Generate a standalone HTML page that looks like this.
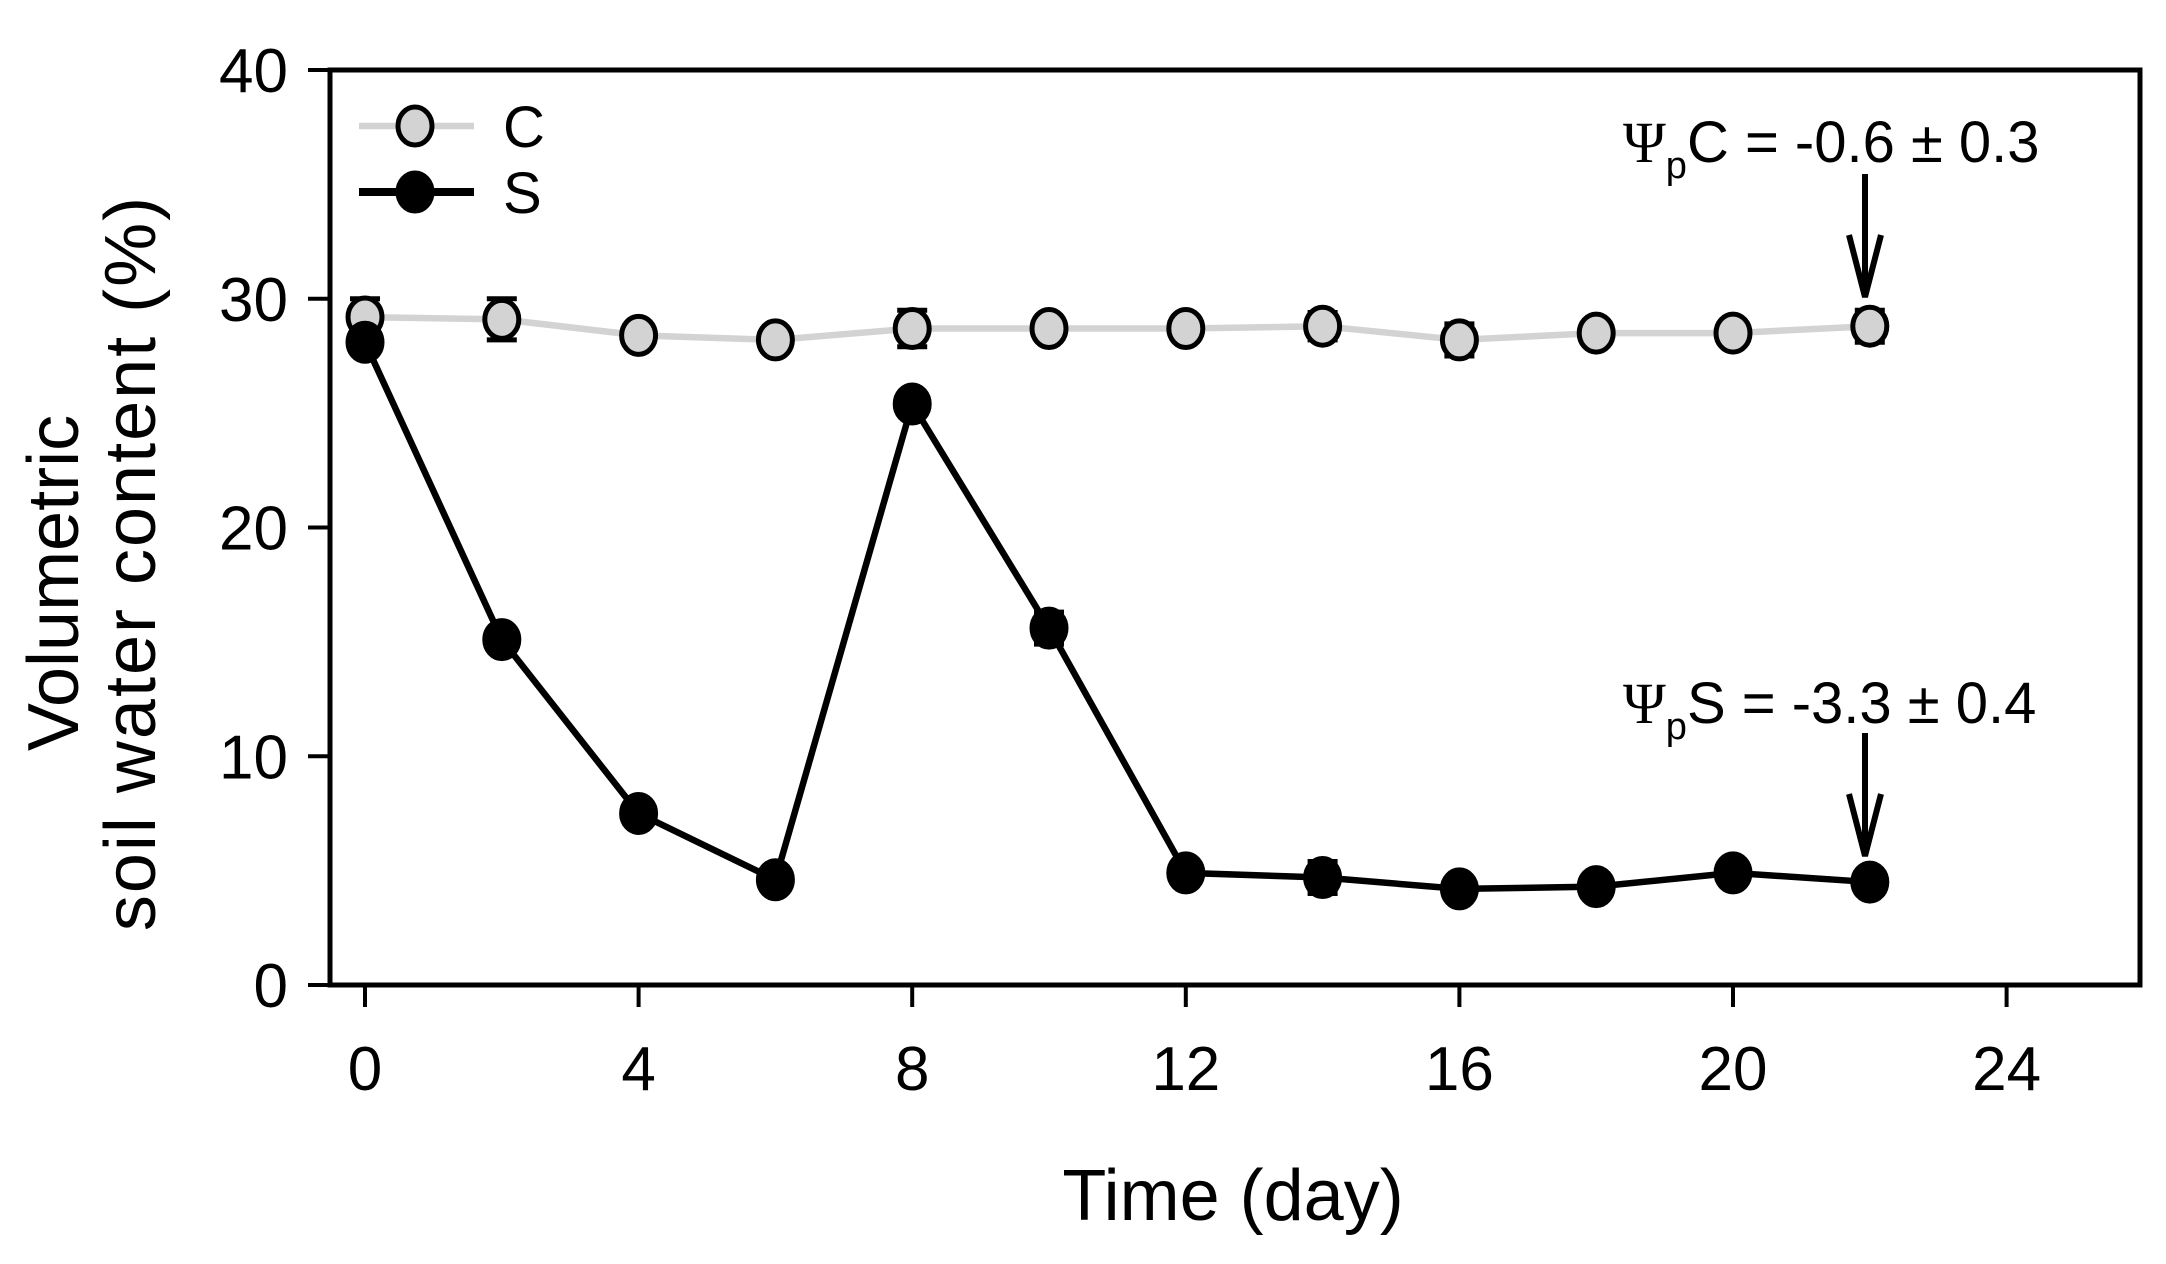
<!DOCTYPE html>
<html><head><meta charset="utf-8"><style>
html,body{margin:0;padding:0;background:#fff;}
svg{display:block;font-family:"Liberation Sans",Arial,sans-serif;}
</style></head><body>
<svg id="chart" width="2166" height="1264" viewBox="0 0 2166 1264">
<rect x="0" y="0" width="2166" height="1264" fill="#fff"/>
<g id="plot"></g>
</svg>
<script>
const days = [0,2,4,6,8,10,12,14,16,18,20,22];
const seriesC = [29.2,29.1,28.4,28.2,28.7,28.7,28.7,28.8,28.2,28.5,28.5,28.8];
const errC = [0.8,0.9,0.4,0.5,0.8,0.5,0.5,0.6,0.7,0.4,0.4,0.7];
const seriesS = [28.1,15.1,7.5,4.6,25.4,15.6,4.9,4.7,4.2,4.3,4.9,4.5];
const errS = [0.5,0.3,0.3,0.3,0.3,0.7,0.3,0.7,0.4,0.3,0.5,0.3];
const xTicks = [0,4,8,12,16,20,24];
const yTicks = [0,10,20,30,40];

const NS='http://www.w3.org/2000/svg';
const g=document.getElementById('plot');
const L=330,R=2140,T=70,B=985;
const x0=365,pxDay=68.4;
function xs(d){return x0+d*pxDay;}
function ys(v){return B-(v/40)*(B-T);}
function mk(tag,attrs,parent){const e=document.createElementNS(NS,tag);for(const k in attrs)e.setAttribute(k,attrs[k]);(parent||g).appendChild(e);return e;}

let e;
e=mk('rect',{x:L,y:T,width:R-L,height:B-T,fill:'none',stroke:'#000','stroke-width':5});



yTicks.forEach(v=>{
  e=mk('line',{x1:L-22,x2:L,y1:ys(v),y2:ys(v),stroke:'#000','stroke-width':4});
  
  
  e=mk('text',{x:288,y:ys(v)+22,'text-anchor':'end','font-size':62});
  e.textContent=v;
  
  
});
xTicks.forEach(d=>{
  e=mk('line',{x1:xs(d),x2:xs(d),y1:B,y2:B+22,stroke:'#000','stroke-width':4});
  
  
  e=mk('text',{x:xs(d),y:1090,'text-anchor':'middle','font-size':62});
  e.textContent=d;
  
  
});

e=mk('text',{x:1233,y:1220,'text-anchor':'middle','font-size':72});
e.textContent='Time (day)';


e=mk('text',{x:0,y:0,'text-anchor':'middle','font-size':72,transform:'translate(78,583) rotate(-90)'});
e.textContent='Volumetric';


e=mk('text',{x:0,y:0,'text-anchor':'middle','font-size':72,'letter-spacing':2,transform:'translate(155,563) rotate(-90)'});
e.textContent='soil water content  (%)';
e.setAttribute('xml:space','preserve');



function drawSeries(vals,errs,lineColor,lw,fill,name){
  const pts=days.map((d,i)=>xs(d)+','+ys(vals[i])).join(' ');
  e=mk('polyline',{points:pts,fill:'none',stroke:lineColor,'stroke-width':lw});
  
  
  days.forEach((d,i)=>{
    const cx=xs(d),top=ys(vals[i]+errs[i]),bot=ys(vals[i]-errs[i]);
    e=mk('path',{d:`M${cx},${top}V${bot}M${cx-15},${top}H${cx+15}M${cx-15},${bot}H${cx+15}`,stroke:'#000','stroke-width':5,fill:'none'});
    
    
  });
  days.forEach((d,i)=>{
    e=mk('ellipse',{cx:xs(d),cy:ys(vals[i]),rx:17,ry:19,fill:fill,stroke:'#000','stroke-width':5});
    
    
  });
}
drawSeries(seriesC,errC,'#d3d3d3',6.5,'#d3d3d3','series-c');
drawSeries(seriesS,errS,'#000',6.5,'#000','series-s');

e=mk('line',{x1:359,x2:474,y1:126,y2:126,stroke:'#d3d3d3','stroke-width':6.5});


e=mk('ellipse',{cx:415,cy:126,rx:17,ry:19,fill:'#d3d3d3',stroke:'#000','stroke-width':5});


e=mk('text',{x:503,y:147,'font-size':58});
e.textContent='C';


e=mk('line',{x1:359,x2:474,y1:192,y2:192,stroke:'#000','stroke-width':8});


e=mk('ellipse',{cx:415,cy:192,rx:17,ry:19,fill:'#000',stroke:'#000','stroke-width':5});


e=mk('text',{x:503,y:213,'font-size':58});
e.textContent='S';



function annot(label,ty,a1,a2,name){
  const t=mk('text',{x:1623,y:ty,'font-size':58});
  
  
  const psi=document.createElementNS(NS,'tspan');psi.setAttribute('font-family','"Liberation Serif",serif');psi.textContent='Ψ';t.appendChild(psi);
  const sub=document.createElementNS(NS,'tspan');sub.setAttribute('font-size',38);sub.setAttribute('dy',16);sub.textContent='p';t.appendChild(sub);
  const rest=document.createElementNS(NS,'tspan');rest.setAttribute('dy',-16);rest.textContent=label;t.appendChild(rest);
  const ax=1865;
  e=mk('path',{d:`M${ax},${a1}V${a2}M${ax-16},${a2-62}L${ax},${a2}L${ax+16},${a2-62}`,stroke:'#000','stroke-width':6,fill:'none'});
  
  
}
annot('C = -0.6 ± 0.3',162,174,297,'annotation-c');
annot('S = -3.3 ± 0.4',723,733,856,'annotation-s');
</script>
</body></html>
